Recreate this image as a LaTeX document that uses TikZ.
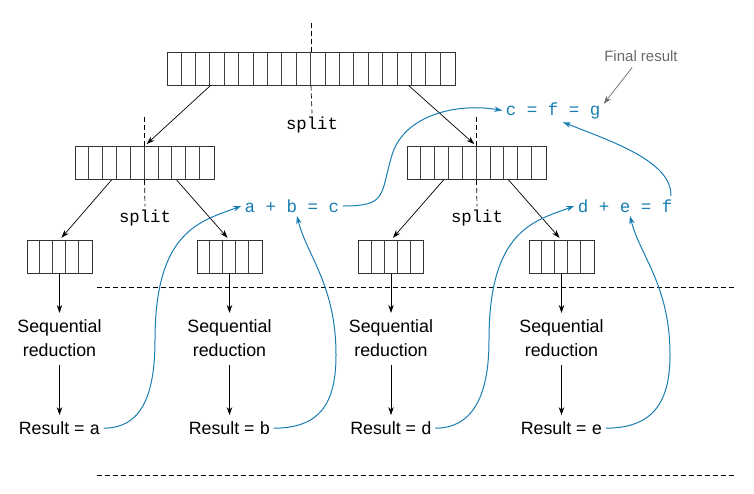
\documentclass[tikz,border=0pt]{standalone}
\usepackage{fontspec}
\setmainfont{Liberation Sans}
\setmonofont{Liberation Mono}
\usetikzlibrary{arrows.meta,positioning}
\definecolor{flowblue}{RGB}{24,126,178}
\definecolor{notegray}{RGB}{105,105,105}

\begin{document}
\begin{tikzpicture}[x=1pt, y=-1pt, font=\fontsize{17.8}{24}\selectfont]
    \tikzstyle{cellrow} = [rectangle, draw=black!80, line width=0.9pt, minimum height=33pt, inner sep=0pt]
    \tikzstyle{cellline} = [black!75, line width=0.8pt]
    \tikzstyle{arrow} = [line width=0.7pt, -{Stealth[length=8pt,width=5.5pt]}, shorten >=3pt]
    \tikzstyle{flow} = [flowblue, line width=1pt, -{Stealth[length=8pt,width=5.5pt]}]
    \tikzstyle{note} = [notegray, line width=0.7pt, -{Stealth[length=8pt,width=5.5pt]}]
    \tikzstyle{splitline} = [dashed, dash pattern=on 5pt off 3pt, line width=0.7pt]
    \tikzstyle{sum} = [text=flowblue, font=\fontsize{17.5}{24}\selectfont\ttfamily]
    \tikzstyle{splitlabel} = [font=\fontsize{17.3}{24}\selectfont\ttfamily]

    \useasboundingbox (0,0) rectangle (754,493);

    % arrays
    \node (whole) [cellrow, minimum width=288pt] at (311,68.5) {};
    \node (midL) [cellrow, minimum width=139pt] at (144.5,163) {};
    \node (midR) [cellrow, minimum width=139pt] at (476.5,163) {};
    \node (arr1) [cellrow, minimum width=65pt] at (59.5,257) {};
    \node (arr2) [cellrow, minimum width=65pt] at (229.5,257) {};
    \node (arr3) [cellrow, minimum width=65pt] at (391,257) {};
    \node (arr4) [cellrow, minimum width=65pt] at (561.5,257) {};

    \foreach \i in {1,...,19}
        \draw [cellline] ([xshift=\i*14.4pt]whole.south west) -- ([xshift=\i*14.4pt]whole.north west);
    \foreach \a in {midL,midR}
        \foreach \i in {1,...,9}
            \draw [cellline] ([xshift=\i*13.9pt]\a.south west) -- ([xshift=\i*13.9pt]\a.north west);
    \foreach \a in {arr1,arr2,arr3,arr4}
        \foreach \i in {1,...,4}
            \draw [cellline] ([xshift=\i*13pt]\a.south west) -- ([xshift=\i*13pt]\a.north west);

    % split marks
    \node (split0) [splitlabel] at (312,125) {split};
    \node (splitL) [splitlabel] at (145,218) {split};
    \node (splitR) [splitlabel] at (477,218) {split};
    \draw [splitline] (whole.north) -- ++(0,-30);
    \draw [splitline] (whole.south) -- (split0.north);
    \draw [splitline] (midL.north) -- ++(0,-30);
    \draw [splitline] (midL.south) -- (splitL.north);
    \draw [splitline] (midR.north) -- ++(0,-30);
    \draw [splitline] (midR.south) -- (splitR.north);

    \draw [arrow] ([xshift=44pt]whole.south west) -- (midL.north);
    \draw [arrow] ([xshift=242pt]whole.south west) -- (midR.north);
    \draw [arrow] ([xshift=37pt]midL.south west) -- (arr1.north);
    \draw [arrow] ([xshift=102pt]midL.south west) -- (arr2.north);
    \draw [arrow] ([xshift=37pt]midR.south west) -- (arr3.north);
    \draw [arrow] ([xshift=102pt]midR.south west) -- (arr4.north);

    % sequential part
    \draw [splitline] (97,287) -- (735,287);
    \draw [splitline] (97,475) -- (735,475);

    \node (seq1) [below=42pt of arr1, align=center] {Sequential\\reduction};
    \node (seq2) [below=42pt of arr2, align=center] {Sequential\\reduction};
    \node (seq3) [below=42pt of arr3, align=center] {Sequential\\reduction};
    \node (seq4) [below=42pt of arr4, align=center] {Sequential\\reduction};
    \node (res1) [below=58pt of seq1] {Result = \texttt{a}};
    \node (res2) [below=58pt of seq2] {Result = \texttt{b}};
    \node (res3) [below=58pt of seq3] {Result = \texttt{d}};
    \node (res4) [below=58pt of seq4] {Result = \texttt{e}};

    \foreach \n in {1,...,4} {
        \draw [arrow] (arr\n) -- (seq\n);
        \draw [arrow, shorten <=5pt] (seq\n) -- (res\n);
    }

    % combining
    \node (ab) [sum] at (292,206) {a + b = c};
    \node (def) [sum] at (625,206) {d + e = f};
    \node (cfg) [sum] at (553,110.5) {c = f = g};
    \node (final) [text=notegray, font=\fontsize{15}{18}\selectfont] at (641,56) {Final result};

    \draw [flow] (res1.east) .. controls +(35,0) and +(0,60) .. (155,340) .. controls +(0,-110) and +(-40,15) .. (ab.west);
    \draw [flow] (res2.east) .. controls +(45,0) and +(0,50) .. (336,355) .. controls +(0,-70) and +(10,40) .. ([xshift=5pt]ab.south);
    \draw [flow] (res3.east) .. controls +(35,0) and +(0,60) .. (489,340) .. controls +(0,-110) and +(-40,15) .. (def.west);
    \draw [flow] (res4.east) .. controls +(45,0) and +(0,50) .. (670,355) .. controls +(0,-70) and +(10,40) .. ([xshift=5pt]def.south);
    \draw [flow] (ab.east) .. controls +(45,0) and +(-12,40) .. (392,155) .. controls +(12,-40) and +(-45,-8) .. (cfg.west);
    \draw [flow] ([xshift=-5pt]def.north east) .. controls +(2,-35) and +(45,18) .. ([xshift=10pt]cfg.south);
    \draw [note, shorten <=3pt] ([xshift=-7pt]final.south) -- ([yshift=-5pt]cfg.north east);
\end{tikzpicture}
\end{document}
